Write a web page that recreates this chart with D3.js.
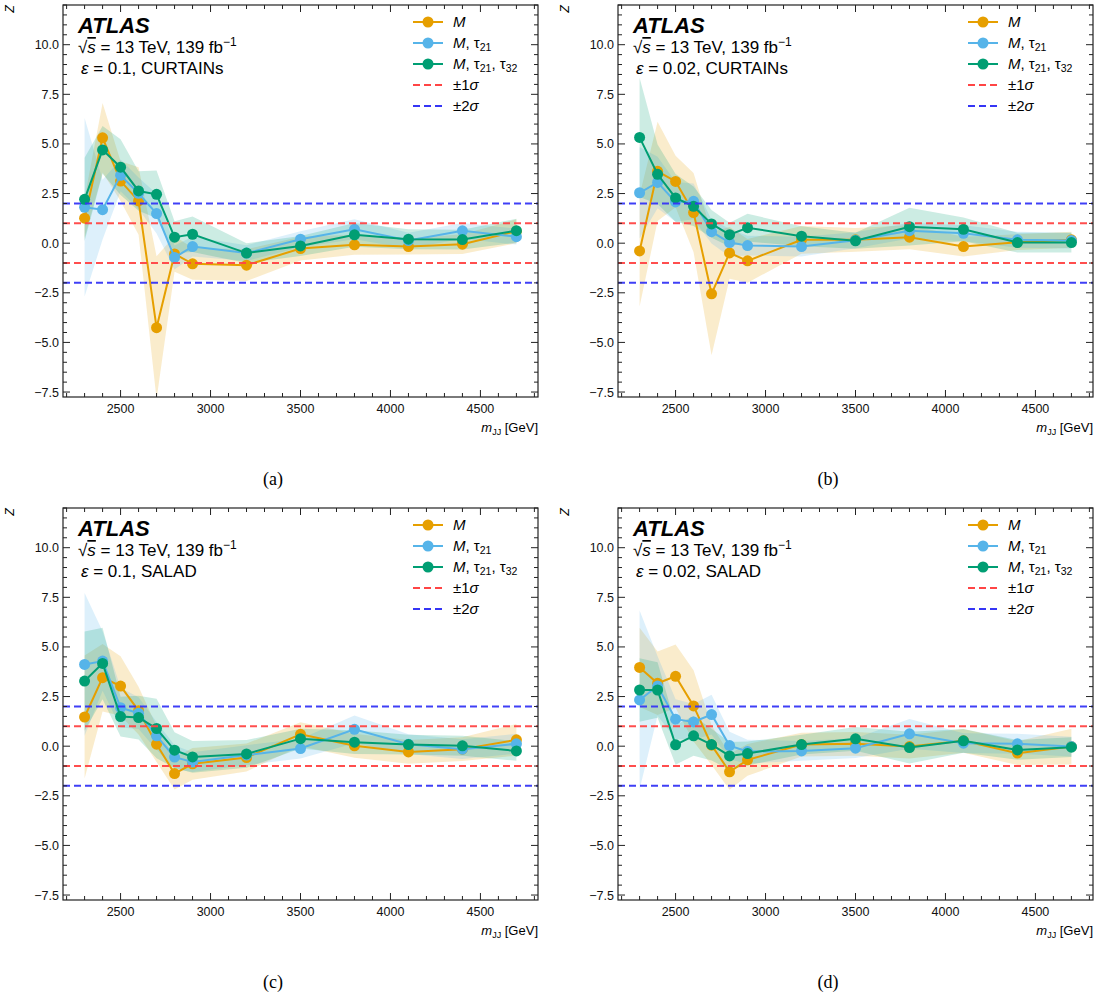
<!DOCTYPE html>
<html><head><meta charset="utf-8">
<script src="https://cdn.jsdelivr.net/npm/d3@7"></script>
<style>body{margin:0;background:#fff}svg{display:block}text{font-family:"Liberation Sans",Arial,sans-serif}</style>
</head><body><svg id="c" width="1103" height="1001"></svg>
<script>
const mjj = [2300,2400,2500,2600,2700,2800,2900,3200,3500,3800,4100,4400,4700];
const xTicks = [2500,3000,3500,4000,4500];
const yTicks = [-7.5,-5,-2.5,0,2.5,5,7.5,10];
const seriesNames = ["M","M, τ21","M, τ21, τ32"];
const panelLabels = ["(a)","(b)","(c)","(d)"];
const epsLabels = ["0.1","0.02","0.1","0.02"];
const methodLabels = ["CURTAINs","CURTAINs","SALAD","SALAD"];

// panel (a)
const zM_a    = [1.26,5.31,3.13,2.13,-4.26,-0.54,-1.04,-1.11,-0.27,-0.08,-0.17,-0.05,0.60];
const eM_a    = [1.0,1.75,1.0,1.7,3.6,0.9,0.8,0.8,0.6,0.5,0.4,0.5,0.6];
const zT21_a  = [1.81,1.69,3.42,2.51,1.49,-0.72,-0.17,-0.50,0.20,0.70,0.13,0.62,0.33];
const eT21_a  = [4.5,1.5,0.8,0.8,1.0,0.6,0.5,0.4,0.4,0.5,0.4,0.4,0.4];
const zT32_a  = [2.21,4.70,3.83,2.63,2.46,0.30,0.45,-0.50,-0.14,0.42,0.20,0.18,0.63];
const eT32_a  = [2.1,1.2,1.4,1.0,1.2,0.8,0.9,0.5,0.5,0.6,0.5,0.5,0.6];
// panel (b)
const zM_b    = [-0.39,3.62,3.11,1.54,-2.55,-0.49,-0.89,0.17,0.17,0.30,-0.17,0.05,0.17];
const eM_b    = [2.8,2.5,1.3,2.0,3.1,1.3,1.1,0.7,0.6,0.6,0.5,0.4,0.4];
const zT21_b  = [2.54,3.06,2.08,2.11,0.58,0.03,-0.12,-0.17,0.15,0.63,0.50,0.17,0.13];
const eT21_b  = [2.3,1.3,1.0,0.9,0.6,0.7,0.5,0.5,0.4,0.4,0.4,0.4,0.4];
const zT32_b  = [5.33,3.47,2.28,1.86,0.97,0.43,0.78,0.35,0.12,0.83,0.70,0.03,0.03];
const eT32_b  = [3.0,1.5,1.2,1.0,0.7,0.6,0.7,0.5,0.4,0.95,0.6,0.5,0.5];
// panel (c)
const zM_c    = [1.47,3.45,3.03,1.79,0.10,-1.38,-0.89,-0.57,0.60,0.02,-0.29,-0.15,0.32];
const eM_c    = [3.1,1.7,1.5,1.2,0.9,0.8,0.8,0.7,0.6,0.6,0.6,0.6,0.8];
const zT21_c  = [4.12,4.29,1.94,1.66,0.52,-0.55,-0.80,-0.45,-0.12,0.85,0.10,-0.15,0.12];
const eT21_c  = [3.6,1.5,1.0,0.8,0.7,0.6,0.5,0.5,0.5,0.7,0.5,0.5,0.5];
const zT32_c  = [3.28,4.17,1.49,1.44,0.89,-0.20,-0.54,-0.39,0.38,0.20,0.08,0.02,-0.24];
const eT32_c  = [2.5,1.8,1.0,1.1,1.5,0.9,0.8,0.7,0.5,0.6,0.5,0.5,0.5];
// panel (d)
const zM_d    = [3.97,3.17,3.52,2.03,0.05,-1.29,-0.69,0.08,0.12,-0.02,0.27,-0.35,-0.02];
const eM_d    = [2.0,1.6,1.6,1.8,1.0,0.9,0.8,0.6,0.6,0.6,0.6,0.6,0.9];
const zT21_d  = [2.33,3.03,1.36,1.22,1.59,0.03,-0.27,-0.24,-0.10,0.62,0.15,0.12,-0.02];
const eT21_d  = [4.5,1.5,1.0,0.9,1.0,0.7,0.6,0.5,0.5,0.75,0.5,0.5,0.5];
const zT32_d  = [2.83,2.83,0.07,0.52,0.08,-0.49,-0.37,0.08,0.37,-0.07,0.27,-0.19,-0.05];
const eT32_d  = [1.6,1.4,1.0,1.0,0.8,0.7,0.6,0.5,0.6,0.8,0.6,0.5,0.5];

const panelData = [
  [[zM_a,eM_a],[zT21_a,eT21_a],[zT32_a,eT32_a]],
  [[zM_b,eM_b],[zT21_b,eT21_b],[zT32_b,eT32_b]],
  [[zM_c,eM_c],[zT21_c,eT21_c],[zT32_c,eT32_c]],
  [[zM_d,eM_d],[zT21_d,eT21_d],[zT32_d,eT32_d]]
];
const colors = ["#E69F00","#56B4E9","#009E73"];
const pos = [[63,5],[618,5],[63,508],[618,508]];
const PW = 475, PH = 392;

const svg = d3.select("#c");
const fmtY = d3.format(".1f");

function addSeriesLabel(t, name, size){
  t.append("tspan").attr("font-style","italic").text("M");
  if(name==="M") return;
  t.append("tspan").text(", τ");
  t.append("tspan").attr("font-size",size*0.7).attr("dy",3).text("21");
  if(name.indexOf("32")>=0){
    t.append("tspan").attr("dy",-3).text(", τ");
    t.append("tspan").attr("font-size",size*0.7).attr("dy",3).text("32");
  }
}

panelData.forEach((series,pi)=>{
  const [L,T] = pos[pi];
  const g = svg.append("g");
  const x = d3.scaleLinear().domain([2180,4820]).range([L,L+PW]);
  const y = d3.scaleLinear().domain([-7.75,12]).range([T+PH,T]);
  const clipId = "clip"+pi;
  svg.append("clipPath").attr("id",clipId).append("rect").attr("x",L).attr("y",T).attr("width",PW).attr("height",PH);
  const plot = g.append("g").attr("clip-path",`url(#${clipId})`);
  series.forEach(([z,e],si)=>{
    const area = d3.area().x((d,i)=>x(mjj[i])).y0((d,i)=>y(z[i]-e[i])).y1((d,i)=>y(z[i]+e[i]));
    plot.append("path").attr("d",area(z)).attr("fill",colors[si]).attr("fill-opacity",0.2).attr("stroke","none");
  });
  series.forEach(([z,e],si)=>{
    const line = d3.line().x((d,i)=>x(mjj[i])).y(d=>y(d));
    plot.append("path").attr("d",line(z)).attr("fill","none").attr("stroke",colors[si]).attr("stroke-width",2);
    plot.selectAll(null).data(z).enter().append("circle")
      .attr("cx",(d,i)=>x(mjj[i])).attr("cy",d=>y(d)).attr("r",5.5).attr("fill",colors[si]);
  });
  [[1,"#ff4545"],[-1,"#ff4545"],[2,"#3535f5"],[-2,"#3535f5"]].forEach(([v,c])=>{
    plot.append("line").attr("x1",L).attr("x2",L+PW).attr("y1",y(v)).attr("y2",y(v))
      .attr("stroke",c).attr("stroke-width",2).attr("stroke-dasharray","7,4").attr("stroke-opacity",0.95);
  });
  g.append("rect").attr("x",L).attr("y",T).attr("width",PW).attr("height",PH).attr("fill","none").attr("stroke","#222").attr("stroke-width",1.2);
  d3.range(2200,4801,100).forEach(v=>{
    const len = xTicks.includes(v)?7:4;
    g.append("line").attr("x1",x(v)).attr("x2",x(v)).attr("y1",T+PH).attr("y2",T+PH-len).attr("stroke","#222");
    g.append("line").attr("x1",x(v)).attr("x2",x(v)).attr("y1",T).attr("y2",T+len).attr("stroke","#222");
  });
  xTicks.forEach(v=>{
    g.append("text").attr("x",x(v)).attr("y",T+PH+16).attr("text-anchor","middle").attr("font-size",12.5).attr("fill","#111").text(v);
  });
  d3.range(-7.5,12.01,0.5).forEach(v=>{
    const len = yTicks.some(t=>Math.abs(t-v)<1e-6)?7:4;
    g.append("line").attr("x1",L).attr("x2",L+len).attr("y1",y(v)).attr("y2",y(v)).attr("stroke","#222");
    g.append("line").attr("x1",L+PW).attr("x2",L+PW-len).attr("y1",y(v)).attr("y2",y(v)).attr("stroke","#222");
  });
  yTicks.forEach(v=>{
    g.append("text").attr("x",L-4).attr("y",y(v)+4.5).attr("text-anchor","end").attr("font-size",12.5).attr("fill","#111").text(fmtY(v));
  });
  g.append("text").attr("transform",`translate(${L-49},${T})rotate(-90)`).attr("text-anchor","end").attr("font-size",12.5).attr("font-style","italic").text("Z");
  const xl = g.append("text").attr("x",L+PW).attr("y",T+PH+35).attr("text-anchor","end").attr("font-size",13);
  xl.append("tspan").attr("font-style","italic").text("m");
  xl.append("tspan").attr("font-size",9).attr("dy",3).text("JJ");
  xl.append("tspan").attr("dy",-3).text(" [GeV]");
  g.append("text").attr("x",L+15).attr("y",T+28).attr("font-size",22).attr("font-weight","bold").attr("font-style","italic").text("ATLAS");
  const t2 = g.append("text").attr("x",L+15).attr("y",T+48).attr("font-size",17);
  t2.append("tspan").text("√");
  t2.append("tspan").attr("font-style","italic").attr("text-decoration","overline").text("s");
  t2.append("tspan").text(" = 13 TeV, 139 fb");
  t2.append("tspan").attr("font-size",12).attr("dy",-7).text("−1");
  const t3 = g.append("text").attr("x",L+18).attr("y",T+69).attr("font-size",17);
  t3.append("tspan").attr("font-style","italic").text("ε");
  t3.append("tspan").text(" = "+epsLabels[pi]+", "+methodLabels[pi]);
  const lx = L+350, ly = T+17, dy = 21;
  seriesNames.forEach((nm,si)=>{
    const yy = ly+si*dy;
    g.append("line").attr("x1",lx).attr("x2",lx+30).attr("y1",yy).attr("y2",yy).attr("stroke",colors[si]).attr("stroke-width",2);
    g.append("circle").attr("cx",lx+15).attr("cy",yy).attr("r",5.5).attr("fill",colors[si]);
    const t = g.append("text").attr("x",lx+40).attr("y",yy+5).attr("font-size",15);
    addSeriesLabel(t,nm,15);
  });
  [["±1","#ff4545"],["±2","#3535f5"]].forEach(([lab,c],k)=>{
    const yy = ly+(3+k)*dy;
    g.append("line").attr("x1",lx).attr("x2",lx+30).attr("y1",yy).attr("y2",yy).attr("stroke",c).attr("stroke-width",2).attr("stroke-dasharray","7,4");
    const t = g.append("text").attr("x",lx+40).attr("y",yy+5).attr("font-size",15);
    t.append("tspan").text(lab);
    t.append("tspan").attr("font-style","italic").text("σ");
  });
  svg.append("text").attr("x",L+210).attr("y",T+PH+88).attr("text-anchor","middle")
    .style("font-family","'Liberation Serif',serif").attr("font-size",18).text(panelLabels[pi]);
});
</script></body></html>
